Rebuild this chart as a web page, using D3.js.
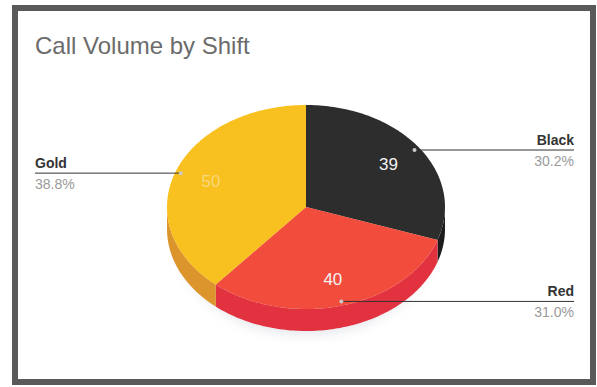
<!DOCTYPE html>
<html lang="en">
<head>
<meta charset="utf-8">
<title>Call Volume by Shift</title>
<script src="https://cdn.jsdelivr.net/npm/d3@7"></script>
<style>
  body { margin: 0; background: #fff; }
  svg { display: block; font-family: "Liberation Sans", Arial, sans-serif; }
  .title { font-size: 24px; fill: #6b6b6b; }
  .name { font-size: 14px; font-weight: bold; fill: #333; }
  .pct { font-size: 14px; fill: #9a9a9a; }
  .val { font-size: 17px; fill: #f2f2f2; }
  .leader { stroke: #333; stroke-width: 1; }
</style>
</head>
<body>
<div id="chart"></div>
<script>
// data
var categories = ["Black", "Red", "Gold"];
var values = [39, 40, 50];
var title = "Call Volume by Shift";

var width = 597, height = 387;
var cx = 306, cy = 207, rx = 139, ry = 102, depth = 22;

var topColor = d3.scaleOrdinal().domain(categories).range(["#2d2d2d", "#f24c3d", "#f9c11f"]);
var sideColor = d3.scaleOrdinal().domain(categories).range(["#1c1c1c", "#e2323f", "#dc952c"]);

var svg = d3.select("#chart").append("svg")
    .attr("width", width)
    .attr("height", height);

// frame
svg.append("rect")
    .attr("x", 15).attr("y", 8)
    .attr("width", 578).attr("height", 374)
    .attr("fill", "#fff")
    .attr("stroke", "#595959")
    .attr("stroke-width", 6);

svg.append("text")
    .attr("class", "title")
    .attr("x", 35).attr("y", 54)
    .text(title);

var total = d3.sum(values);
var fmt = d3.format(".1%");

var pie = d3.pie().sort(null).value(function(d) { return d.value; });
var arcs = pie(categories.map(function(c, i) { return {name: c, value: values[i]}; }));

// project a pie angle onto the tilted ellipse
function pt(a, f, dy) {
    return [cx + rx * f * Math.sin(a), cy - ry * f * Math.cos(a) + (dy || 0)];
}
function arcPts(a0, a1, dy) {
    var n = Math.max(2, Math.ceil((a1 - a0) / 0.02));
    return d3.range(n + 1).map(function(i) { return pt(a0 + (a1 - a0) * i / n, 1, dy); });
}
var line = d3.line();

// soft shadow
var defs = svg.append("defs");
defs.append("filter").attr("id", "blur")
    .append("feGaussianBlur").attr("stdDeviation", 6);
svg.append("ellipse")
    .attr("cx", cx).attr("cy", cy + depth + 8)
    .attr("rx", rx - 10).attr("ry", ry - 4)
    .attr("fill", "#b8bcc8").attr("opacity", 0.35)
    .attr("filter", "url(#blur)");

var pieG = svg.append("g");

// side walls (front half only)
arcs.forEach(function(d) {
    var a0 = Math.max(d.startAngle, Math.PI / 2), a1 = Math.min(d.endAngle, 3 * Math.PI / 2);
    if (a1 <= a0) return;
    var pts = arcPts(a0, a1, 0).concat(arcPts(a0, a1, depth).reverse());
    pieG.append("path")
        .attr("d", line(pts) + "Z")
        .attr("fill", sideColor(d.data.name));
});

// top surfaces
arcs.forEach(function(d) {
    var pts = [[cx, cy]].concat(arcPts(d.startAngle, d.endAngle, 0));
    pieG.append("path")
        .attr("d", line(pts) + "Z")
        .attr("fill", topColor(d.data.name));
});

// value labels
arcs.forEach(function(d) {
    var m = (d.startAngle + d.endAngle) / 2;
    var p = pt(m, 0.73);
    svg.append("text")
        .attr("class", "val")
        .attr("x", p[0]).attr("y", p[1] + 6)
        .attr("text-anchor", "middle")
        .attr("opacity", d.data.name === "Gold" ? 0.45 : 1)
        .text(d.data.value);
});

// leader lines + outside labels
arcs.forEach(function(d) {
    var m = (d.startAngle + d.endAngle) / 2;
    var p = pt(m, 0.96);
    var left = p[0] < cx;
    var xEnd = left ? 35 : 574;
    svg.append("line")
        .attr("class", "leader")
        .attr("x1", p[0]).attr("y1", p[1])
        .attr("x2", xEnd).attr("y2", p[1]);
    svg.append("circle")
        .attr("cx", p[0]).attr("cy", p[1]).attr("r", 2)
        .attr("fill", "#c9c9c9");
    svg.append("text")
        .attr("class", "name")
        .attr("x", xEnd).attr("y", p[1] - 5)
        .attr("text-anchor", left ? "start" : "end")
        .text(d.data.name);
    svg.append("text")
        .attr("class", "pct")
        .attr("x", xEnd).attr("y", p[1] + 16)
        .attr("text-anchor", left ? "start" : "end")
        .text(fmt(d.data.value / total));
});
</script>
</body>
</html>
